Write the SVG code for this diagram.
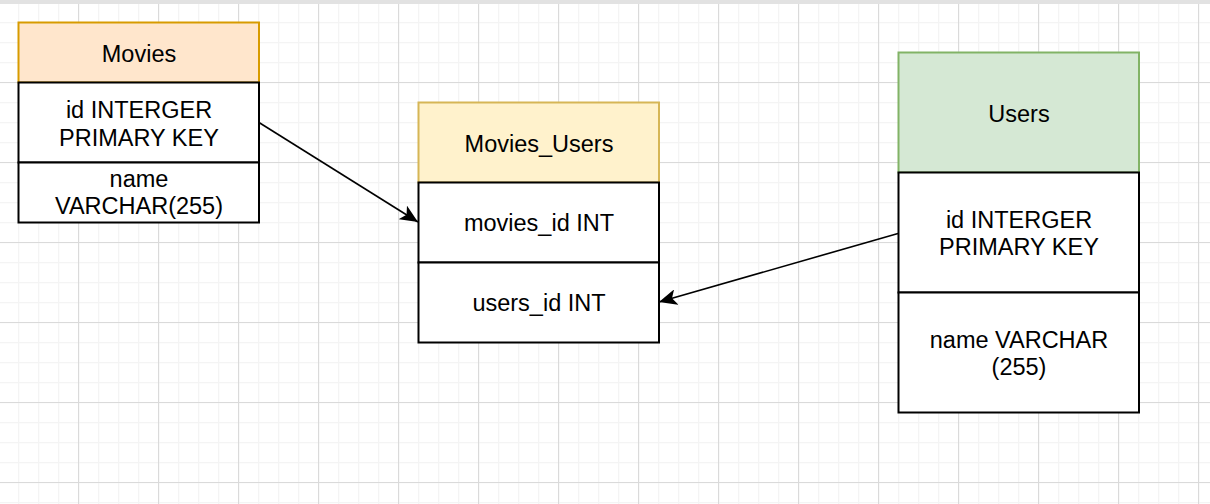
<svg xmlns="http://www.w3.org/2000/svg" width="1210" height="504" viewBox="0 0 1210 504">
  <defs>
    <pattern id="minor" width="20" height="20" patternUnits="userSpaceOnUse" x="18" y="2">
      <path d="M0 0.5H20M0.5 0V20" fill="none" stroke="#f4f4f4" stroke-width="1.5"/>
    </pattern>
    <pattern id="major" width="80" height="80" patternUnits="userSpaceOnUse" x="78" y="2">
      <path d="M0 0.5H80M0.5 0V80" fill="none" stroke="#dadada" stroke-width="1.2"/>
    </pattern>
    <marker id="arrow" viewBox="0 0 18 16" refX="18" refY="8" markerWidth="18" markerHeight="16" markerUnits="userSpaceOnUse" orient="auto">
      <path d="M0 0L18 8L0 16L4.5 8Z" fill="#000"/>
    </marker>
    <style>
      text { font-family: "Liberation Sans", Arial, sans-serif; font-size: 23.5px; fill: #000; text-anchor: middle; }
      .row { fill: #fff; stroke: #000; stroke-width: 2; }
      .edge { fill: none; stroke: #000; stroke-width: 1.6; marker-end: url(#arrow); }
    </style>
  </defs>
  <rect width="1210" height="504" fill="#fff"/>
  <rect width="1210" height="504" fill="url(#minor)"/>
  <rect width="1210" height="504" fill="url(#major)"/>
  <rect x="0" y="0" width="1210" height="4" fill="#e2e2e2"/>

  <g id="movies">
    <rect x="18.5" y="22.5" width="240.5" height="60" fill="#ffe6cc" stroke="#d79b00" stroke-width="2"/>
    <rect class="row" x="18.5" y="82.5" width="240.5" height="80"/>
    <rect class="row" x="18.5" y="162.5" width="240.5" height="60"/>
    <text x="139" y="61.5">Movies</text>
    <text x="139" y="118">id INTERGER</text>
    <text x="139" y="145.5">PRIMARY KEY</text>
    <text x="139" y="186.5">name</text>
    <text x="139" y="214">VARCHAR(255)</text>
  </g>

  <g id="movies_users">
    <rect x="418.5" y="102.5" width="240.5" height="80" fill="#fff2cc" stroke="#d6b656" stroke-width="2"/>
    <rect class="row" x="418.5" y="182.5" width="240.5" height="80"/>
    <rect class="row" x="418.5" y="262.5" width="240.5" height="80"/>
    <text x="539" y="151.5">Movies_Users</text>
    <text x="539" y="231">movies_id INT</text>
    <text x="539" y="311">users_id INT</text>
  </g>

  <g id="users">
    <rect x="898.5" y="52.5" width="240.5" height="120" fill="#d5e8d4" stroke="#82b366" stroke-width="2"/>
    <rect class="row" x="898.5" y="172.5" width="240.5" height="120"/>
    <rect class="row" x="898.5" y="292.5" width="240.5" height="120"/>
    <text x="1019" y="121.5">Users</text>
    <text x="1019" y="228">id INTERGER</text>
    <text x="1019" y="255">PRIMARY KEY</text>
    <text x="1019" y="348">name VARCHAR</text>
    <text x="1019" y="375">(255)</text>
  </g>

  <g id="connectors">
    <path class="edge" d="M259 122.5L418 222"/>
    <path class="edge" d="M898 233.5L659 302"/>
  </g>
</svg>
